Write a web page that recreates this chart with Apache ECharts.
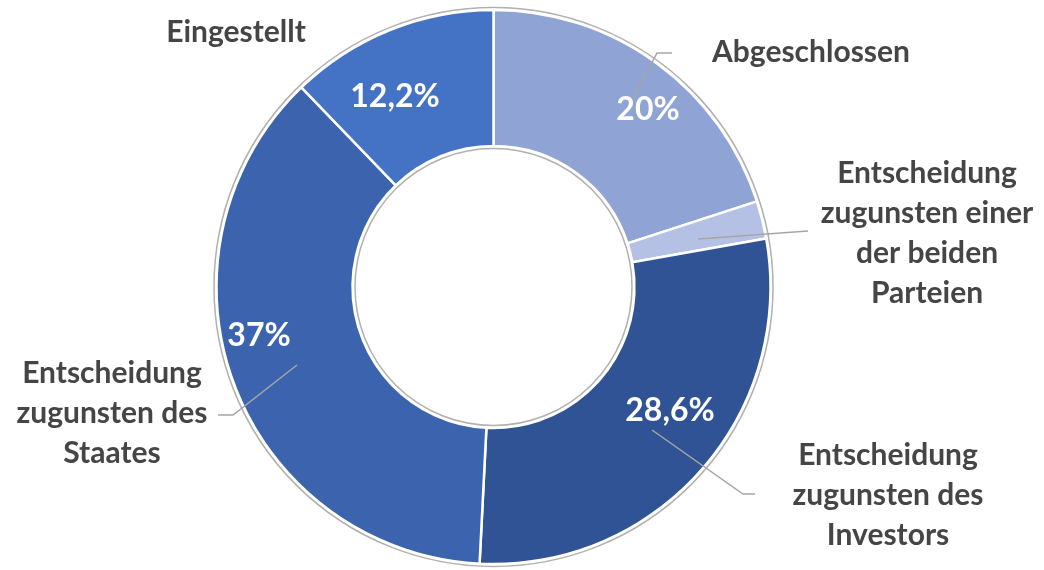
<!DOCTYPE html>
<html>
<head>
<meta charset="utf-8">
<script src="https://cdn.jsdelivr.net/npm/echarts@6/dist/echarts.min.js"></script>
<style>
html,body{margin:0;padding:0;background:#fff;}
#chart{width:1044px;height:570px;}
</style>
</head>
<body>
<div id="chart"></div>
<script>
// ---- data ----
const categories = ['Abgeschlossen', 'Entscheidung zugunsten einer der beiden Parteien', 'Entscheidung zugunsten des Investors', 'Entscheidung zugunsten des Staates', 'Eingestellt'];
const labelTexts = ['Abgeschlossen', 'Entscheidung\nzugunsten einer\nder beiden\nParteien', 'Entscheidung\nzugunsten des\nInvestors', 'Entscheidung\nzugunsten des\nStaates', 'Eingestellt'];
const values = [20, 2.2, 28.6, 37, 12.2];
const showValueLabel = [true, false, true, true, true];
const showLeader = [true, true, true, true, false];

// ---- styles / layout ----
const colors = ['#8fa3d5', '#b4c1e5', '#2f5394', '#3b63ae', '#4472c4'];
const center = [493.5, 287];
const rInner = 141, rOuter = 277;
const valueLabelPos = [[648, 110], null, [670, 411], [259, 336], [395, 97]];
const nameLabelPos = [[811, 52], [927, 233], [888, 495], [112, 413], [236, 32]];
const leaderPts = [
  [[633, 98], [657, 53], [672, 53]],
  [[698, 239], [753, 235], [808, 231]],
  [[652, 430], [743, 494], [755, 494]],
  [[297, 365], [233, 415], [218, 415]],
  null
];

const fmt = v => String(v).replace('.', ',') + '%';

const chart = echarts.init(document.getElementById('chart'), null, {renderer: 'canvas'});
const baseData = categories.map((c, i) => ({name: c, value: values[i]}));

chart.setOption({
  animation: false,
  backgroundColor: '#ffffff',
  series: [
    { // outer gray ring
      type: 'pie', silent: true, center: center, radius: [0, 279.5], z: 1,
      label: {show: false}, labelLine: {show: false},
      itemStyle: {color: 'rgba(0,0,0,0)', borderColor: '#b0b0b0', borderWidth: 1.5},
      emphasis: {disabled: true},
      data: [{value: 1, name: ''}]
    },
    { // slices with percentage labels
      type: 'pie', silent: true, center: center, radius: [rInner, rOuter], z: 2,
      startAngle: 90, clockwise: true, avoidLabelOverlap: false,
      itemStyle: {borderColor: '#ffffff', borderWidth: 2.5},
      emphasis: {disabled: true},
      label: {
        show: true, position: 'inside', color: '#ffffff',
        fontFamily: 'Lato', fontWeight: 'bold', fontSize: 32,
        formatter: p => showValueLabel[p.dataIndex] ? fmt(p.value) : ''
      },
      labelLine: {show: false},
      labelLayout: p => {
        const pos = valueLabelPos[p.dataIndex];
        if (!pos) return {};
        return {x: pos[0], y: pos[1], align: 'center', verticalAlign: 'middle'};
      },
      data: baseData.map((d, i) => ({...d, itemStyle: {color: colors[i]}}))
    },
    { // inner gray circle
      type: 'pie', silent: true, center: center, radius: [0, 138.5], z: 3,
      label: {show: false}, labelLine: {show: false},
      itemStyle: {color: '#ffffff', borderColor: '#b0b0b0', borderWidth: 1.5},
      emphasis: {disabled: true},
      data: [{value: 1, name: ''}]
    },
    { // transparent overlay carrying category labels
      type: 'pie', silent: true, center: center, radius: [rInner, rOuter], z: 4,
      startAngle: 90, clockwise: true, avoidLabelOverlap: false,
      itemStyle: {color: 'rgba(0,0,0,0)', borderWidth: 0},
      emphasis: {disabled: true},
      label: {
        show: true, position: 'outside', alignTo: 'none', overflow: 'none',
        color: '#454545', fontFamily: 'Lato', fontWeight: 'bold', fontSize: 30,
        lineHeight: 40, align: 'center',
        formatter: p => labelTexts[p.dataIndex]
      },
      labelLine: {show: true, length: 10, length2: 10, smooth: false,
        lineStyle: {color: '#a6a6a6', width: 1.5}},
      labelLayout: p => {
        const i = p.dataIndex;
        const pos = nameLabelPos[i];
        const out = {x: pos[0], y: pos[1], align: 'center', verticalAlign: 'middle'};
        if (leaderPts[i]) out.labelLinePoints = leaderPts[i];
        return out;
      },
      data: baseData.map((d, i) => ({...d, labelLine: {show: showLeader[i]}}))
    }
  ]
});
</script>
</body>
</html>
